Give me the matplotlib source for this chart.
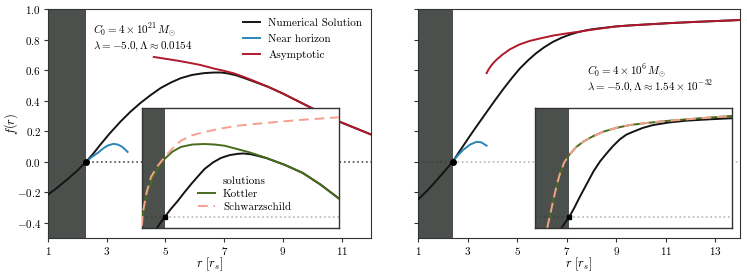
import numpy as np
import matplotlib
matplotlib.use('Agg')
import matplotlib.pyplot as plt

plt.rcParams['font.family'] = 'serif'
plt.rcParams['font.serif'] = ['cmr10']
plt.rcParams['mathtext.fontset'] = 'cm'
plt.rcParams['axes.formatter.use_mathtext'] = True
plt.rcParams['font.size'] = 8

# ---- left panel (C0 = 4e21) ----
r_h_left = 2.3
num_left_r = [1.0, 1.3, 1.65, 2.0, 2.3, 2.55, 2.78, 3.1, 3.47, 3.8, 4.15, 4.5, 4.84, 5.2,
              5.52, 5.9, 6.31, 6.65, 6.9, 7.13, 7.4, 7.68, 8.15, 8.5, 9.0, 9.63, 10.2,
              10.76, 11.4, 12.0]
num_left_f = [-0.216, -0.172, -0.117, -0.058, 0.0, 0.055, 0.111, 0.185, 0.263, 0.326, 0.385,
              0.437, 0.483, 0.52, 0.547, 0.568, 0.58, 0.584, 0.584, 0.578, 0.566, 0.548,
              0.515, 0.49, 0.446, 0.385, 0.33, 0.275, 0.225, 0.178]
near_left_r = [2.3, 2.5, 2.71, 2.9, 3.05, 3.23, 3.38, 3.53, 3.71]
near_left_f = [0.0, 0.032, 0.06, 0.09, 0.107, 0.117, 0.112, 0.097, 0.064]
asym_left_r = [4.6, 5.0, 5.4, 5.8, 6.2, 6.65, 7.0, 7.34, 7.7, 8.0, 8.5, 9.0, 9.63, 10.2,
               10.76, 11.4, 12.0]
asym_left_f = [0.686, 0.674, 0.662, 0.648, 0.633, 0.61, 0.595, 0.578, 0.553, 0.53, 0.49,
               0.446, 0.385, 0.33, 0.275, 0.225, 0.178]

# left inset
ins_num_left_r = [1.876, 2.1, 2.3, 2.6, 2.977, 3.3, 3.652, 4.0, 4.33, 4.75, 5.16, 5.6, 6.02,
                  6.3, 6.68, 7.1, 7.48, 8.41, 9.32, 10.2, 11.15]
ins_num_left_f = [-0.109, -0.05, 0.0, 0.07, 0.15, 0.225, 0.303, 0.375, 0.441, 0.5, 0.542,
                  0.568, 0.58, 0.583, 0.576, 0.558, 0.54, 0.478, 0.404, 0.3, 0.17]
kottler_left_r = [1.15, 1.2, 1.4, 1.62, 1.95, 2.3, 2.7, 3.13, 3.7, 4.33, 4.85, 5.35, 5.9,
                  6.6, 7.38, 8.41, 9.32, 10.2, 11.15]
kottler_left_f = [-0.06, 0.028, 0.2, 0.334, 0.45, 0.533, 0.6, 0.643, 0.665, 0.67, 0.665,
                  0.654, 0.628, 0.594, 0.548, 0.478, 0.404, 0.3, 0.17]
schw_left_r = [1.15, 1.2, 1.4, 1.61, 1.95, 2.3, 2.7, 3.13, 3.7, 4.33, 5.1, 6.02, 7.38, 9.0,
               11.15]
schw_left_f = [-0.08, 0.047, 0.235, 0.368, 0.47, 0.548, 0.63, 0.7, 0.75, 0.78, 0.81, 0.838,
               0.862, 0.888, 0.915]

# ---- right panel (C0 = 4e6) ----
r_h_right = 2.4
num_right_r = [1.0, 1.4, 1.75, 2.1, 2.4, 2.83, 3.1, 3.4, 3.77, 4.1, 4.44, 4.8, 5.11,
               5.45, 5.78, 6.1, 6.45, 6.8, 7.12, 7.45, 7.79, 8.1, 8.46, 9.0, 9.6, 10.34,
               11.2, 12.1, 13.0, 14.0]
num_right_f = [-0.248, -0.185, -0.122, -0.057, 0.0, 0.105, 0.17, 0.24, 0.325, 0.4,
               0.475, 0.55, 0.61, 0.665, 0.712, 0.75, 0.785, 0.812, 0.832, 0.848, 0.861, 0.869,
               0.876, 0.886, 0.893, 0.9, 0.908, 0.915, 0.921, 0.928]
near_right_r = [2.4, 2.6, 2.83, 3.1, 3.36, 3.55, 3.77]
near_right_f = [0.0, 0.04, 0.078, 0.112, 0.13, 0.127, 0.105]
asym_right_r = [3.77, 3.85, 3.95, 4.05, 4.17, 4.4, 4.7, 5.1, 5.51, 6.0, 6.45, 7.0, 7.52, 8.0,
                8.46, 9.0, 9.6, 10.34, 11.2, 12.1, 13.0, 14.0]
asym_right_f = [0.58, 0.605, 0.628, 0.648, 0.668, 0.7, 0.735, 0.768, 0.791, 0.81, 0.826,
                0.84, 0.852, 0.864, 0.874, 0.886, 0.893, 0.9, 0.908, 0.915, 0.921, 0.928]

# right inset (Kottler and Schwarzschild coincide)
ins_num_right_r = [2.03, 2.2, 2.4, 2.65, 2.95, 3.3, 3.63, 3.97, 4.31, 4.65, 4.98, 5.3, 5.66,
                   6.15, 6.67, 7.5, 8.37, 9.5, 10.65]
ins_num_right_f = [-0.097, -0.05, 0.0, 0.08, 0.187, 0.305, 0.416, 0.51, 0.585, 0.655, 0.713,
                   0.755, 0.783, 0.818, 0.844, 0.868, 0.884, 0.896, 0.906]
kottler_right_r = [1.294, 1.45, 1.6, 1.77, 1.94, 2.15, 2.4, 2.75, 3.12, 3.6, 4.14, 4.8, 5.49,
                   6.5, 7.52, 9.0, 10.65]
kottler_right_f = [-0.097, 0.03, 0.157, 0.29, 0.401, 0.5, 0.569, 0.64, 0.691, 0.74, 0.783,
                   0.818, 0.844, 0.866, 0.884, 0.905, 0.927]
schw_right_r = kottler_right_r
schw_right_f = kottler_right_f

BLACK = '#141414'
BLUE = '#2a86b8'
RED = '#b2182b'
GREEN = '#4a6b1c'
SALMON = '#f4a08e'
SHADE = '#4b504c'
SPINE = '0.2'

fig = plt.figure(figsize=(7.47, 2.75), dpi=100)
ax1 = fig.add_axes([0.0643, 0.1345, 0.4324, 0.8327])
ax2 = fig.add_axes([0.5596, 0.1345, 0.431, 0.8327])


def main_panel(ax, r_h, xmax, nr, nf, hr, hf, ar, af, right_light):
    ax.axvspan(1, r_h, color=SHADE, lw=0, zorder=0)
    if right_light:
        ax.plot([1, r_h], [0, 0], ls=':', color='0.25', lw=1.2, zorder=1)
        ax.plot([r_h, xmax], [0, 0], ls=':', color='0.72', lw=1.2, zorder=1)
    else:
        ax.plot([1, xmax], [0, 0], ls=':', color='0.3', lw=1.2, zorder=1)
    ax.plot(nr, nf, color=BLACK, lw=1.4, label='Numerical Solution', zorder=3)
    ax.plot(hr, hf, color=BLUE, lw=1.4, label='Near horizon', zorder=4)
    ax.plot(ar, af, color=RED, lw=1.4, label='Asymptotic', zorder=4)
    ax.plot([r_h], [0], 'o', color='k', ms=4, zorder=5)
    ax.set_xlim(1, xmax)
    ax.set_ylim(-0.5, 1.0)
    ax.set_xticks(np.arange(1, xmax, 2))
    ax.set_yticks([-0.4, -0.2, 0.0, 0.2, 0.4, 0.6, 0.8, 1.0])
    ax.set_xlabel(r'$r\ [r_s]$', fontsize=9)
    ax.xaxis.set_label_coords(0.5, -0.075)
    for s in ax.spines.values():
        s.set_color(SPINE)
    ax.tick_params(colors=SPINE, labelcolor='k', length=3, pad=2, labelsize=8)


main_panel(ax1, r_h_left, 12, num_left_r, num_left_f, near_left_r, near_left_f,
           asym_left_r, asym_left_f, False)
main_panel(ax2, r_h_right, 14, num_right_r, num_right_f, near_right_r, near_right_f,
           asym_right_r, asym_right_f, True)
ax1.set_ylabel(r'$f(r)$', fontsize=9)
ax1.yaxis.set_label_coords(-0.088, 0.5)
ax2.tick_params(labelleft=False)

ax1.legend(loc='upper right', frameon=False, fontsize=8, handlelength=1.6,
           handletextpad=0.7, borderaxespad=0.4, labelspacing=0.55)

ax1.text(0.139, 0.905, r'$C_0 = 4\times10^{21}\,M_{\odot}$', transform=ax1.transAxes,
         fontsize=8, va='center')
ax1.text(0.139, 0.838, r'$\lambda = -5.0, \Lambda \approx 0.0154$', transform=ax1.transAxes,
         fontsize=8, va='center')
ax2.text(0.525, 0.727, r'$C_0 = 4\times10^{6}\,M_{\odot}$', transform=ax2.transAxes,
         fontsize=8, va='center')
ax2.text(0.525, 0.66, r'$\lambda = -5.0, \Lambda \approx 1.54\times10^{-32}$',
         transform=ax2.transAxes, fontsize=8, va='center')


def inset_panel(rect, x0, r_h, nr, nf, kr, kf, sr, sf, legend):
    ins = fig.add_axes(rect)
    x1 = x0 + 10
    ins.axvspan(x0, r_h, color=SHADE, lw=0, zorder=0)
    ins.plot([x0, r_h], [0, 0], ls=':', color='0.25', lw=1.2, zorder=1)
    ins.plot([r_h, x1], [0, 0], ls=':', color='0.72', lw=1.2, zorder=1)
    ins.plot(kr, kf, color=GREEN, lw=1.4, label='Kottler', zorder=3)
    ins.plot(sr, sf, color=SALMON, lw=1.4, ls=(0, (5, 3)), label='Schwarzschild', zorder=4)
    ins.plot(nr, nf, color=BLACK, lw=1.4, zorder=2)
    ins.plot([r_h], [0], 's', color='k', ms=3, zorder=5)
    ins.set_xlim(x0, x1)
    ins.set_ylim(-0.1, 1.0)
    ins.set_xticks([])
    ins.set_yticks([])
    for s in ins.spines.values():
        s.set_color(SPINE)
        s.set_linewidth(1.0)
    if legend:
        ins.legend(loc='center', bbox_to_anchor=(0.52, 0.28), frameon=False,
                   fontsize=8, title='solutions', title_fontsize=8,
                   handlelength=1.6, handletextpad=0.7, labelspacing=0.3)
    return ins


inset_panel([0.190, 0.1709, 0.2637, 0.4364], 1.15, r_h_left,
            ins_num_left_r, ins_num_left_f, kottler_left_r, kottler_left_f,
            schw_left_r, schw_left_f, True)
inset_panel([0.7162, 0.1709, 0.2637, 0.4364], 0.67, r_h_right,
            ins_num_right_r, ins_num_right_f, kottler_right_r, kottler_right_f,
            schw_right_r, schw_right_f, False)

fig.savefig('out.png', dpi=100)
